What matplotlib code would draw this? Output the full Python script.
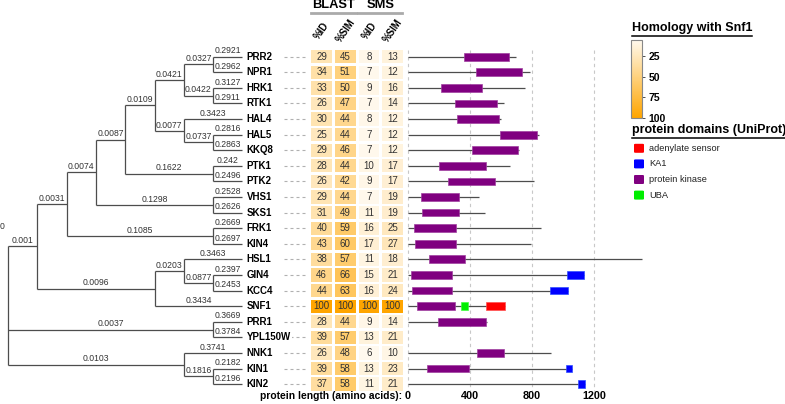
import matplotlib.pyplot as plt
import numpy as np
from matplotlib.colors import LinearSegmentedColormap, Normalize
from matplotlib.patches import Rectangle, FancyBboxPatch
from matplotlib.lines import Line2D
from matplotlib.transforms import blended_transform_factory
import matplotlib.cm as cm

plt.rcParams["font.family"] = ["Liberation Sans", "DejaVu Sans"]

# ---- dados ----
tips = ["PRR2", "NPR1", "HRK1", "RTK1", "HAL4", "HAL5", "KKQ8", "PTK1", "PTK2",
        "VHS1", "SKS1", "FRK1", "KIN4", "HSL1", "GIN4", "KCC4", "SNF1", "PRR1",
        "YPL150W", "NNK1", "KIN1", "KIN2"]
tip_len = ["0.2921", "0.2962", "0.3127", "0.2911", "0.3423", "0.2816", "0.2863",
           "0.242", "0.2496", "0.2528", "0.2626", "0.2669", "0.2697", "0.3463",
           "0.2397", "0.2453", "0.3434", "0.3669", "0.3784", "0.3741", "0.2182",
           "0.2196"]

# arvore: (rotulo do ramo, filhos)
tree = ("0", [
    ("0.001", [
        ("0.0031", [
            ("0.0074", [
                ("0.0087", [
                    ("0.0109", [
                        ("0.0421", [("0.0327", ["PRR2", "NPR1"]),
                                    ("0.0422", ["HRK1", "RTK1"])]),
                        ("0.0077", ["HAL4", ("0.0737", ["HAL5", "KKQ8"])]),
                    ]),
                    ("0.1622", ["PTK1", "PTK2"]),
                ]),
                ("0.1298", ["VHS1", "SKS1"]),
            ]),
            ("0.1085", ["FRK1", "KIN4"]),
        ]),
        ("0.0096", [
            ("0.0203", ["HSL1", ("0.0877", ["GIN4", "KCC4"])]),
            "SNF1",
        ]),
    ]),
    ("0.0037", ["PRR1", "YPL150W"]),
    ("0.0103", ["NNK1", ("0.1816", ["KIN1", "KIN2"])]),
])

blast_id = [29, 34, 33, 26, 30, 25, 29, 28, 26, 29, 31, 40, 43, 38, 46, 44, 100, 28, 39, 26, 39, 37]
blast_sim = [45, 51, 50, 47, 44, 44, 46, 44, 42, 44, 49, 59, 60, 57, 66, 63, 100, 44, 57, 48, 58, 58]
sms_id = [8, 7, 9, 7, 8, 7, 7, 10, 9, 7, 11, 16, 17, 11, 15, 16, 100, 9, 13, 6, 13, 11]
sms_sim = [13, 12, 16, 14, 12, 12, 12, 17, 17, 19, 19, 25, 27, 18, 21, 24, 100, 14, 21, 10, 23, 21]
col_headers = ["%ID", "%SIM", "%ID", "%SIM"]

prot_length = [698, 787, 757, 619, 600, 849, 720, 658, 813, 458, 501, 862, 797, 1508,
               1137, 1031, 630, 514, np.nan, 924, 1062, 1143]

dom_prot = ["PRR2", "NPR1", "HRK1", "RTK1", "HAL4", "HAL5", "KKQ8", "PTK1", "PTK2",
            "VHS1", "SKS1", "FRK1", "KIN4", "HSL1", "GIN4", "GIN4", "KCC4", "KCC4",
            "SNF1", "SNF1", "SNF1", "PRR1", "NNK1", "KIN1", "KIN1", "KIN2", "KIN2"]
dom_name = ["protein kinase"] * 14 + ["KA1", "protein kinase", "KA1", "protein kinase",
            "UBA", "adenylate sensor", "protein kinase", "protein kinase",
            "protein kinase", "KA1", "protein kinase", "KA1"]
dom_start = [364, 441, 218, 306, 321, 594, 415, 201, 259, 89, 96, 44, 48, 136,
             1025, 22, 918, 27, 344, 505, 59, 194, 450, 1018, 123, 1100, 102]
dom_end = [652, 739, 478, 574, 589, 834, 711, 503, 561, 332, 332, 312, 312, 368,
           1137, 289, 1031, 284, 390, 628, 306, 508, 623, 1059, 398, 1143, 377]

dom_types = ["adenylate sensor", "KA1", "protein kinase", "UBA"]
dom_colors = ["#FF0000", "#0000FF", "#800080", "#00EE00"]
dom_edges = ["#FF5050", "#3050FF", "#A040A0", "#40FF40"]
length_ticks = [0, 400, 800, 1200]

# ---- layout ----
W, H = 785, 404
ROW0, ROWH = 56.7, 15.59
fig = plt.figure(figsize=(W / 100, H / 100), dpi=100)


def fy(px):
    return 1 - px / H


def full_axes(px0, px_unit):
    ax = fig.add_axes([0, 0, 1, 1])
    ax.set_xlim(-px0 / px_unit, (W - px0) / px_unit)
    ax.set_ylim((H - ROW0) / ROWH, -ROW0 / ROWH)
    ax.axis("off")
    return ax


cor_linha = "#4d4d4d"

# ---- arvore ----
ax_tree = full_axes(8, 29.3)
TIP = 8


def draw(node):
    if isinstance(node, str):
        return TIP, tips.index(node), 0
    label, kids = node
    res = [draw(k) for k in kids]
    h = 1 + max(r[2] for r in res)
    x = TIP - h
    ys = [r[1] for r in res]
    ax_tree.vlines(x, min(ys), max(ys), color=cor_linha, lw=0.9)
    for k, (cx, cy, _) in zip(kids, res):
        ax_tree.hlines(cy, x, cx, color=cor_linha, lw=0.9)
        lab = tip_len[tips.index(k)] if isinstance(k, str) else k[0]
        ax_tree.text((x + cx) / 2, cy - 0.08, lab, ha="center", va="bottom",
                     fontsize=6.2, color="#333333")
    return x, (min(ys) + max(ys)) / 2, h


rx, ry, rh = draw(tree)
ax_tree.text(rx - 0.27, 10.9, tree[0], ha="left", va="center", fontsize=6.2, color="#333333")

for i, name in enumerate(tips):
    ax_tree.hlines(i, (284 - 8) / 29.3, (307 - 8) / 29.3, color="#b0b0b0", lw=0.8,
                   linestyles=(0, (2.7, 2.7)), zorder=1)
    ax_tree.text(TIP + 0.14, i, name, ha="left", va="center", fontsize=7,
                 fontweight="bold", zorder=3,
                 bbox=dict(boxstyle="square,pad=0.15", fc="white", ec="none"))

# ---- tabela ----
cmap = LinearSegmentedColormap.from_list("homol", ["#FFF9EE", "#FFA500"])
valores = np.array([blast_id, blast_sim, sms_id, sms_sim])
norm = Normalize(vmin=valores.min(), vmax=valores.max())

ax_tab = full_axes(321.7, 23.67)
for c in range(4):
    for i in range(len(tips)):
        v = valores[c, i]
        ax_tab.add_patch(Rectangle((c - 0.44, i - 0.425), 0.88, 0.85,
                                   fc=cmap(norm(v)), ec="none"))
        ax_tab.text(c, i, str(v), ha="center", va="center", fontsize=7, color="#333333")

tr_tab = blended_transform_factory(ax_tab.transData, fig.transFigure)
for x0, x1, nome in [(-0.45, 1.45, "BLAST"), (1.55, 3.4, "SMS")]:
    ax_tab.text((x0 + x1) / 2, fy(5.5), nome, transform=tr_tab, ha="center",
                va="center", fontsize=9.3, fontweight="bold")
    ax_tab.plot([x0, x1], [fy(13), fy(13)], transform=tr_tab, color="#aaaaaa",
                lw=2, clip_on=False)
for c, lab in enumerate(col_headers):
    ax_tab.text(c, fy(31), lab, transform=tr_tab, ha="center", va="center",
                rotation=55, rotation_mode="anchor", fontsize=7, fontweight="bold")

# ---- dominios ----
ax_dom = full_axes(407.5, 0.1553)
ax_dom.vlines(length_ticks, -0.45, 21.45, colors="#c8c8c8", lw=0.8,
              linestyles=(0, (3, 3)), zorder=0)
for i, L in enumerate(prot_length):
    if not np.isnan(L):
        ax_dom.hlines(i, 0, L, color=cor_linha, lw=0.9, zorder=1)
for p, d, s, e in zip(dom_prot, dom_name, dom_start, dom_end):
    k = dom_types.index(d)
    ax_dom.add_patch(Rectangle((s, tips.index(p) - 0.25), e - s, 0.5,
                               fc=dom_colors[k], ec=dom_edges[k], lw=0.5, zorder=2))

tr_dom = blended_transform_factory(ax_dom.transData, fig.transFigure)
for t in length_ticks:
    ax_dom.text(t, fy(396), str(t), transform=tr_dom, ha="center", va="center",
                fontsize=7.8, fontweight="bold")
fig.text(402 / W, fy(396), "protein length (amino acids):", ha="right", va="center",
         fontsize=7.4, fontweight="bold")

# ---- legendas ----
renderer = fig.canvas.get_renderer()


def titulo_sublinhado(x_px, y_px, texto):
    t = fig.text(x_px / W, fy(y_px), texto, ha="left", va="center", fontsize=9,
                 fontweight="bold")
    bb = t.get_window_extent(renderer)
    y = (bb.y0 - 1.5) / H
    fig.add_artist(Line2D([bb.x0 / W, bb.x1 / W], [y, y], transform=fig.transFigure,
                          color="black", lw=1.1))


titulo_sublinhado(631.5, 28, "Homology with Snf1")

cax = fig.add_axes([631 / W, fy(118), 11 / W, 78 / H])
sm = cm.ScalarMappable(norm=norm, cmap=cmap)
cb = fig.colorbar(sm, cax=cax, ticks=[25, 50, 75, 100])
cax.invert_yaxis()
cb.outline.set_edgecolor("#888888")
cb.outline.set_linewidth(0.8)
cax.tick_params(length=2.5, width=0.6, pad=2, labelsize=7.5, color="#333333")
for lab in cax.get_yticklabels():
    lab.set_fontweight("bold")

titulo_sublinhado(631.5, 130, "protein domains (UniProt)")
for k, (d, cor) in enumerate(zip(dom_types, dom_colors)):
    yc = 148.3 + k * 15.6
    fig.add_artist(FancyBboxPatch((634 / W, fy(yc + 4.5)), 10 / W, 9 / H,
                                  boxstyle="round,pad=0,rounding_size=0.002",
                                  transform=fig.transFigure, fc=cor, ec="none"))
    fig.text(649 / W, fy(yc), d, ha="left", va="center", fontsize=6.7, color="#222222")

fig.savefig("out.png", dpi=100)
